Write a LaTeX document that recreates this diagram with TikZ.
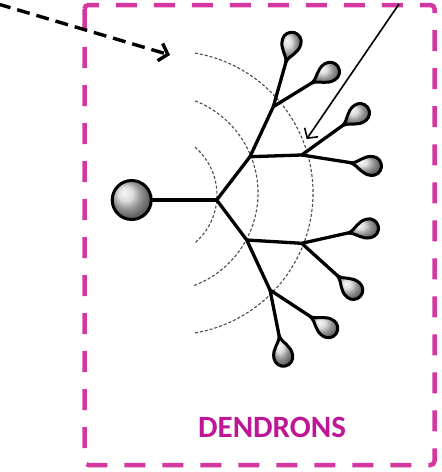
\documentclass[tikz,border=0pt]{standalone}
\usepackage{fontspec}
\setmainfont{Carlito}
\usetikzlibrary{arrows.meta,calc}
\definecolor{boxmag}{RGB}{212,56,160}
\definecolor{txtmag}{RGB}{190,22,148}
\tikzset{
  x=1pt, y=1pt,
  dend/.style={line width=3.3pt, line cap=round, line join=round},
  arcline/.style={dash pattern=on 3pt off 2pt, black!70, line width=1.1pt},
  bulb/.style={line width=3pt, shading=ball, ball color=gray!35},
  frame/.style={boxmag, line width=4.5pt, dash pattern=on 21pt off 17pt, rounded corners=4pt},
}
\newcommand{\leafat}[2]{%
  \begin{scope}[shift={(#1)}, rotate=#2]
  \draw[bulb] (-21,0) .. controls (-13,2) and (-10,9.5) .. (0,9.5)
     arc[start angle=90,end angle=-90,radius=9.5]
     .. controls (-10,-9.5) and (-13,-2) .. (-21,0) -- cycle;
  \end{scope}}
\begin{document}
\begin{tikzpicture}
\useasboundingbox (0,0) rectangle (442,-472);
% frame
\draw[frame] (84.5,-5) rectangle (434.5,-465);
\node[font=\bfseries\fontsize{31}{31}\selectfont, text=txtmag] (label) at (272,-427) {DENDRONS};
% arcs
\draw[arcline] (154,-195) ++(49.5:63) arc[start angle=49.5,end angle=-49.5,radius=63];
\draw[arcline] (159,-193) ++(68.6:99) arc[start angle=68.6,end angle=-69.5,radius=99];
\draw[arcline] (171,-193) ++(80.3:142) arc[start angle=80.3,end angle=-81,radius=142];
% branch points
\coordinate (A) at (216.7,-200);
\coordinate (B) at (250,-156.7);
\coordinate (C) at (246.7,-240);
\coordinate (D) at (273.3,-106.7);
\coordinate (E) at (301.7,-155);
\coordinate (F) at (301.7,-243.3);
\coordinate (G) at (270,-290);
\coordinate (L1) at (291.7,-41.7);
\coordinate (L2) at (330,-71.7);
\coordinate (L3) at (360,-113);
\coordinate (L4) at (372,-166);
\coordinate (L5) at (369,-228.3);
\coordinate (L6) at (353.3,-290);
\coordinate (L7) at (328.3,-328.3);
\coordinate (L8) at (283.3,-356.7);
% soma
\node[circle, draw, line width=3pt, minimum size=39pt, inner sep=0pt, shading=ball, ball color=gray!35] (soma) at (131.7,-200) {};
% dendrites
\draw[dend] (soma) -- (A);
\draw[dend] (C) -- (A) -- (B) -- (D);
\draw[dend] (B) -- (E);
\draw[dend] (C) -- (F);
\draw[dend] (C) -- (G);
\draw[dend] (D) -- (L1);
\draw[dend] (D) -- (L2);
\draw[dend] (E) -- (L3);
\draw[dend] (E) -- (L4);
\draw[dend] (F) -- (L5);
\draw[dend] (F) -- (L6);
\draw[dend] (G) -- (L7);
\draw[dend] (G) -- (L8);
\leafat{L1}{74}
\leafat{L2}{32}
\leafat{L3}{36}
\leafat{L4}{-8}
\leafat{L5}{13}
\leafat{L6}{-42}
\leafat{L7}{-33}
\leafat{L8}{-79}
% arrows
\coordinate (s1) at (-2,-4);
\coordinate (t1) at (170,-55);
\draw[line width=3.4pt, dash pattern=on 13pt off 7pt, -{Straight Barb[length=8pt,width=18pt]}] (s1) -- (t1);
\coordinate (s2) at (399,-4);
\coordinate (t2) at (306.7,-139);
\draw[line width=1.6pt, -{Straight Barb[length=7pt,width=16pt]}] (s2) -- (t2);
\end{tikzpicture}
\end{document}
